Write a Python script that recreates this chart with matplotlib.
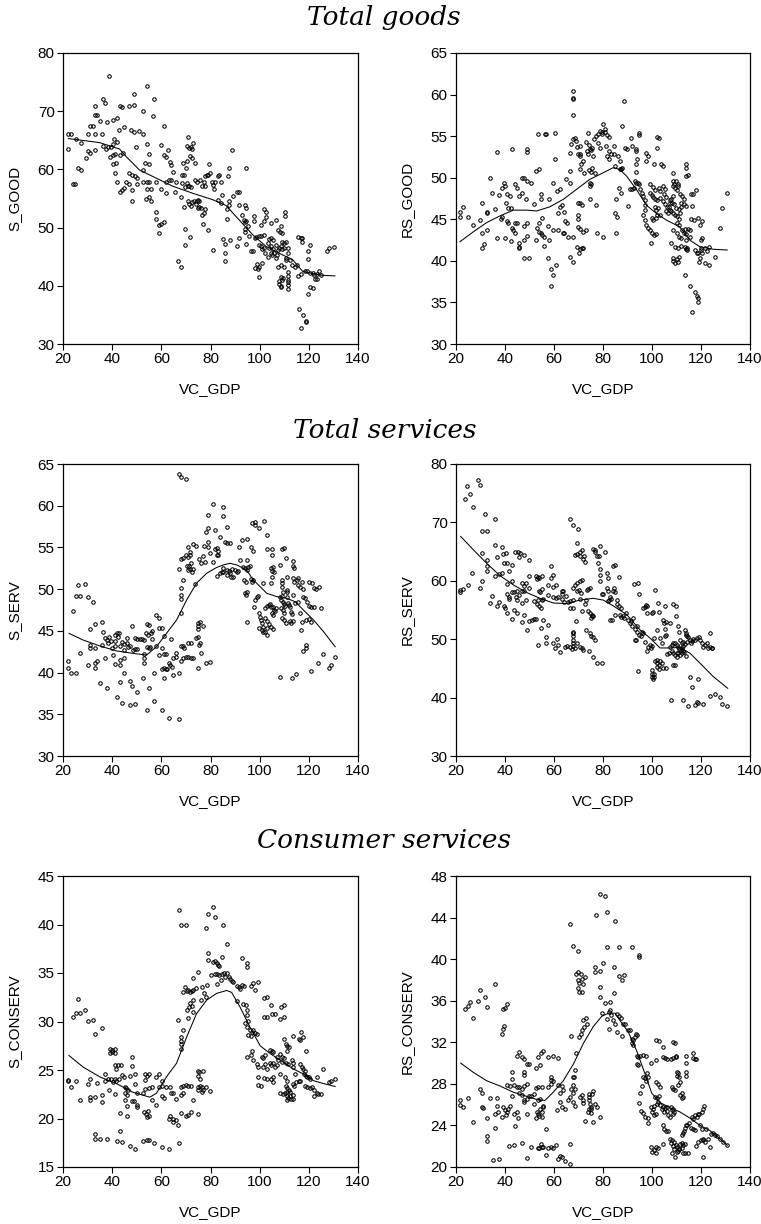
import numpy as np
import matplotlib
matplotlib.use("Agg")
import matplotlib.pyplot as plt

# ------------------------- data -------------------------

x_ticks = [20, 40, 60, 80, 100, 120, 140]
titles = ["Total goods", "Total services", "Consumer services"]

# panel 1: S_GOOD vs VC_GDP
s_good_pts = [
    (22.2,66.1),(23.1,66.1),(22.2,63.5),(25.3,65.2),(27.2,64.6),(24.1,57.5),(24.9,57.5),(26.0,60.2),(27.2,59.9),
    (29.2,62.0),(30.0,63.1),(31.1,62.9),(30.1,66.1),(31.1,67.4),(32.0,67.4),(33.1,69.4),(33.9,69.4),(33.0,70.9),
    (36.1,72.1),(37.0,71.4),(34.9,68.4),(33.1,66.1),(33.1,63.4),(36.0,66.1),(37.9,68.1),(40.2,68.5),(41.9,68.9),
    (38.9,76.0),(36.2,64.0),(37.3,63.5),(38.3,63.9),(39.4,63.9),(40.3,64.3),(40.2,62.4),(41.1,62.7),(39.0,62.2),
    (40.4,60.9),(41.4,61.1),(40.7,65.2),(41.9,64.7),(43.0,70.9),(43.9,70.7),(46.8,70.9),(48.8,72.9),(48.9,71.1),
    (42.9,66.8),(45.0,67.3),(47.7,66.8),(48.9,66.4),(50.9,66.6),(43.3,62.5),(44.4,62.8),(41.0,59.4),(41.9,57.9),
    (43.0,56.2),(44.1,56.5),(45.0,56.8),(45.8,57.9),(46.9,57.5),(46.8,59.4),(48.0,59.0),(49.1,58.8),(49.9,58.5),
    (48.0,56.4),(49.9,57.5),(48.0,54.6),(49.8,63.8),(52.7,66.0),(54.0,64.4),(54.9,62.6),(53.4,61.1),(54.9,60.9),
    (52.5,59.9),(52.7,57.9),(54.0,57.8),(54.8,57.8),(54.0,56.7),(55.7,56.7),(53.8,55.0),(55.0,55.2),(55.6,54.6),
    (54.0,74.3),(56.9,72.1),(56.8,69.2),(52.6,70.0),(57.9,52.7),(57.9,51.5),(59.0,50.4),(60.0,50.6),(60.9,50.9),
    (59.0,49.0),(57.9,57.9),(59.9,56.7),(59.9,64.2),(60.9,67.4),(60.9,62.5),(62.0,62.1),(62.9,63.3),(63.6,61.3),
    (64.0,60.7),(64.7,59.6),(62.0,57.8),(63.3,58.2),(64.1,58.1),(61.7,55.9),(65.5,56.2),(66.0,57.8),(66.7,44.2),
    (67.8,43.3),(70.6,64.0),(71.4,63.6),(72.1,63.8),(72.5,63.5),(70.7,65.6),(72.9,64.6),(68.4,59.0),(69.3,59.1),
    (71.7,62.3),(72.5,61.9),(69.0,61.1),(70.0,60.3),(70.5,61.4),(68.6,57.7),(69.5,56.9),(70.4,57.7),(70.9,57.2),
    (71.4,57.1),(72.0,56.9),(68.0,55.2),(69.4,53.6),(70.9,54.5),(71.2,54.0),(72.1,53.7),(72.6,54.4),(69.8,49.7),
    (71.8,48.4),(69.7,47.0),(73.7,58.1),(74.4,57.9),(73.7,61.1),(75.9,58.2),(76.4,57.1),(74.8,54.8),(75.2,53.6),
    (76.0,53.3),(76.7,52.2),(73.4,54.5),(73.9,54.1),(74.5,54.6),(75.0,53.3),(75.5,54.6),(77.4,57.9),(77.8,58.8),
    (78.5,59.1),(79.1,59.1),(79.9,59.4),(79.5,61.0),(77.9,57.2),(77.4,52.5),(77.9,53.2),(76.8,50.7),(78.9,49.6),
    (80.9,46.2),(80.5,57.9),(81.2,57.4),(82.0,57.9),(81.6,56.6),(82.9,58.8),(83.6,59.1),(84.3,57.9),(84.8,55.6),
    (84.2,54.2),(82.9,54.8),(85.1,48.0),(85.9,47.1),(85.8,45.6),(85.8,44.2),(86.8,53.2),(86.8,51.5),(87.7,54.5),
    (87.7,53.9),(87.8,47.9),(88.6,63.4),(89.0,55.5),(87.7,60.2),(87.0,58.8),(90.6,46.8),(91.4,48.2),(90.6,56.1),
    (91.7,56.1),(91.6,53.9),(92.7,52.2),(94.2,53.9),(94.6,53.4),(94.6,60.3),(93.5,51.3),(94.0,50.9),(94.4,51.1),
    (94.0,49.7),(94.2,49.3),(95.1,50.3),(94.6,47.2),(95.8,48.5),(96.5,45.9),(97.3,45.9),(97.8,52.0),(97.8,51.2),
    (98.0,48.2),(98.7,48.4),(99.6,48.5),(100.5,48.5),(99.7,47.0),(100.6,46.8),(101.0,46.3),(101.7,46.5),(99.4,42.9),
    (97.9,43.0),(99.0,43.7),(99.9,43.3),(100.8,43.9),(99.7,41.5),(101.6,53.2),(102.5,52.6),(101.6,51.2),(102.5,51.9),
    (100.7,50.5),(101.6,48.7),(103.6,48.1),(102.3,45.6),(103.2,45.0),(103.3,47.4),(103.8,46.5),(104.6,46.8),
    (105.4,46.3),(104.5,45.7),(105.2,45.3),(106.0,45.6),(106.5,44.7),(107.2,45.3),(107.3,46.1),(107.9,46.5),
    (108.7,46.8),(109.2,46.3),(104.6,50.8),(104.6,48.2),(105.5,47.8),(106.6,47.0),(106.8,51.3),(107.5,49.6),
    (108.2,49.2),(109.0,49.0),(108.8,50.3),(109.0,47.6),(110.1,47.3),(110.9,47.6),(110.1,46.5),(110.5,52.6),
    (110.5,52.0),(111.4,46.5),(111.4,45.6),(107.6,43.2),(108.5,43.6),(110.0,43.3),(110.9,44.5),(107.9,40.9),
    (107.9,40.3),(108.8,40.0),(108.8,41.5),(109.2,41.0),(109.5,41.3),(108.8,39.8),(111.4,42.4),(111.4,41.7),
    (111.4,41.0),(111.4,40.6),(111.4,40.2),(111.4,39.4),(110.7,44.8),(112.2,44.4),(113.0,43.6),(114.4,43.3),
    (115.1,43.6),(115.5,48.4),(116.8,48.2),(117.4,48.2),(117.4,47.5),(115.7,41.6),(116.8,42.1),(118.3,42.5),
    (119.2,42.5),(120.4,47.0),(119.7,45.9),(119.5,44.6),(120.4,42.2),(121.5,42.2),(122.2,41.9),(123.2,42.1),
    (124.2,42.5),(125.1,41.8),(122.4,41.1),(123.5,41.1),(120.4,39.8),(121.5,39.6),(119.6,38.6),(127.2,45.9),
    (128.3,46.5),(130.3,46.6),(115.8,36.0),(117.8,34.9),(118.8,34.0),(116.8,32.7),(118.9,33.8),
]
s_good_fit = [
    (22.2,65.3),(34.9,64.6),(43.0,63.5),(45.7,62.2),(51.1,59.9),(57.9,58.5),(64.7,57.1),(72.8,55.9),(80.9,54.8),
    (86.3,53.8),(91.7,51.3),(97.1,48.8),(102.5,46.8),(107.9,45.6),(113.4,44.5),(117.4,42.5),(121.5,42.1),
    (125.5,41.8),(130.6,41.7),
]

# panel 2: RS_GOOD vs VC_GDP
rs_good_pts = [
    (21.6,45.9),(21.6,45.3),(22.7,46.5),(24.8,45.3),(26.8,44.3),(29.6,44.9),(30.7,47.0),(30.7,43.3),(31.5,42.0),
    (30.7,41.5),(32.5,45.9),(32.8,45.7),(32.8,43.7),(33.7,50.0),(34.7,48.2),(35.9,46.2),(36.6,53.1),(36.8,42.7),
    (37.7,47.9),(38.2,45.0),(38.9,45.3),(38.9,48.8),(39.5,49.4),(40.2,49.0),(40.9,48.1),(42.0,47.8),(40.5,47.0),
    (41.2,46.4),(42.6,46.3),(40.7,44.8),(41.3,44.5),(42.7,43.9),(39.9,42.8),(42.7,53.4),(43.9,49.2),(44.7,48.8),
    (43.9,44.6),(44.7,44.5),(43.1,43.7),(44.0,43.3),(42.6,42.4),(45.8,42.1),(45.8,41.7),(45.8,41.5),(46.8,50.0),
    (47.8,50.0),(48.8,49.6),(46.8,48.2),(45.8,47.8),(48.4,47.4),(50.8,49.4),(51.7,46.8),(47.7,42.5),(48.8,43.0),
    (47.7,44.2),(48.8,44.6),(47.7,40.3),(49.6,40.3),(48.8,53.4),(48.8,53.1),(52.9,43.9),(53.7,44.6),(52.6,42.5),
    (53.9,43.5),(52.6,50.8),(53.7,51.0),(54.6,48.0),(54.6,47.5),(53.6,55.2),(56.3,55.2),(56.7,55.3),(54.9,45.1),
    (54.5,43.3),(55.2,43.1),(55.9,42.9),(57.8,42.5),(56.0,41.8),(57.6,40.3),(58.7,39.0),(59.5,38.3),(60.8,39.5),
    (58.6,37.0),(57.8,47.5),(59.7,49.4),(60.6,52.2),(60.6,55.4),(57.6,44.2),(59.4,43.7),(61.6,43.7),(61.7,45.7),
    (62.4,46.5),(63.1,46.7),(63.8,43.3),(64.0,43.3),(64.6,44.8),(65.5,44.6),(64.2,45.9),(61.4,48.4),(62.4,48.6),
    (64.7,49.8),(65.7,42.9),(66.7,49.4),(66.7,50.8),(66.7,53.0),(66.8,54.1),(67.8,54.6),(68.5,54.8),(68.8,54.4),
    (69.2,53.7),(67.6,42.9),(66.7,40.5),(67.6,39.9),(67.6,60.4),(67.6,59.6),(67.8,59.5),(67.6,57.5),(69.5,41.7),
    (70.5,41.4),(71.5,41.5),(70.2,41.0),(72.0,41.6),(69.6,44.1),(70.5,43.8),(71.9,43.5),(72.9,43.7),(69.9,45.5),
    (69.6,45.0),(69.9,46.9),(70.5,46.9),(71.5,46.7),(69.9,52.8),(70.6,52.8),(70.5,52.6),(70.5,53.8),(71.9,52.0),
    (71.2,51.6),(70.5,51.1),(72.3,50.6),(72.9,54.3),(73.7,55.4),(74.2,53.9),(74.6,53.4),(75.0,53.3),(73.3,53.2),
    (73.9,52.9),(74.6,49.4),(74.9,49.2),(74.6,49.0),(74.6,47.4),(74.2,50.9),(74.9,50.7),(75.6,51.2),(76.7,50.6),
    (75.7,53.6),(76.0,52.6),(76.5,54.6),(77.3,55.0),(78.0,55.2),(77.9,54.2),(78.7,53.6),(78.7,55.6),(79.4,55.2),
    (79.6,55.5),(80.1,56.5),(80.7,55.9),(81.0,55.5),(81.5,55.1),(82.5,54.9),(81.4,53.8),(82.5,53.2),(81.8,52.6),
    (82.5,52.2),(83.2,52.8),(84.5,53.8),(84.4,52.8),(84.7,51.4),(86.2,52.6),(86.8,52.0),(87.7,56.2),(88.6,59.2),
    (88.9,53.6),(89.8,53.4),(87.0,51.0),(87.4,51.1),(87.7,51.2),(86.6,48.8),(87.4,48.2),(85.5,47.5),(85.1,45.7),
    (85.8,45.3),(85.5,43.3),(77.0,46.7),(77.6,43.3),(80.0,42.9),(90.4,46.6),(91.2,48.6),(91.9,48.7),(92.6,48.8),
    (91.6,54.8),(92.0,53.8),(94.6,55.4),(94.7,55.1),(93.5,53.4),(93.6,53.2),(94.0,52.2),(93.4,51.6),(93.6,50.7),
    (93.0,49.6),(93.6,49.4),(94.3,49.4),(94.7,49.2),(95.3,48.6),(96.1,48.2),(96.4,47.8),(97.0,47.3),(97.0,46.7),
    (97.3,46.1),(96.4,45.5),(97.2,44.9),(97.7,44.3),(98.4,44.0),(99.1,43.7),(99.8,43.3),(100.7,43.1),(101.5,43.2),
    (99.5,42.2),(97.4,53.0),(98.5,52.6),(97.7,52.0),(100.8,51.6),(103.6,51.7),(104.5,51.4),(102.1,54.9),(102.9,54.8),
    (102.1,53.6),(99.3,49.2),(100.4,48.9),(101.1,48.5),(99.1,48.2),(99.8,47.9),(100.4,47.7),(101.2,47.5),(102.2,47.3),
    (103.2,47.6),(104.3,47.2),(105.2,46.8),(102.7,48.8),(103.4,48.4),(104.5,49.0),(105.2,48.6),(104.9,48.1),
    (105.6,47.7),(101.1,46.5),(101.8,46.1),(102.5,46.3),(99.8,45.1),(100.4,44.9),(101.5,45.1),(102.2,45.5),
    (103.2,45.5),(106.1,46.5),(107.0,46.5),(107.5,46.9),(105.9,46.0),(106.6,45.8),(107.2,46.1),(107.2,47.3),
    (107.9,47.5),(108.6,47.8),(108.6,49.6),(108.9,49.3),(108.6,49.0),(109.3,48.8),(110.0,48.5),(108.6,50.6),
    (109.7,49.6),(110.5,49.3),(110.8,49.0),(108.3,47.0),(109.1,46.8),(109.9,46.4),(111.0,46.2),(107.9,46.0),
    (108.6,45.8),(109.4,45.5),(110.4,45.4),(111.0,45.0),(111.3,45.8),(112.0,46.5),(110.4,44.5),(111.0,44.3),
    (111.6,48.0),(112.4,47.8),(112.9,47.4),(112.0,46.9),(113.1,46.8),(113.8,46.6),(108.6,43.7),(110.0,43.3),
    (111.0,42.9),(112.0,42.8),(112.9,43.3),(113.7,43.2),(107.9,42.1),(109.3,41.7),(110.6,41.5),(112.0,41.8),
    (113.3,41.7),(114.0,41.4),(108.6,40.3),(108.6,40.0),(109.3,39.8),(110.0,40.2),(110.6,39.9),(110.9,40.5),
    (112.4,43.7),(113.5,43.8),(114.7,43.8),(115.4,43.7),(115.4,42.9),(114.0,42.5),(114.3,41.5),(114.3,41.3),
    (114.0,51.6),(114.0,51.2),(114.0,50.2),(114.6,50.3),(116.1,48.1),(116.7,48.1),(117.8,48.5),(116.1,45.0),
    (117.0,44.9),(116.3,46.6),(113.3,38.3),(115.4,37.0),(117.4,36.2),(118.4,35.8),(118.8,35.5),(118.8,35.1),
    (116.3,33.8),(117.7,41.3),(118.4,40.9),(118.8,41.0),(119.9,41.3),(120.1,41.5),(119.5,40.3),(120.6,40.9),
    (121.5,41.5),(122.6,41.2),(123.4,41.7),(119.9,42.5),(120.6,42.7),(118.8,45.1),(120.6,44.8),(119.5,44.3),
    (119.2,39.9),(121.5,39.7),(123.3,39.5),(125.6,40.5),(127.6,43.9),(128.6,46.3),(130.7,48.2),
]
rs_good_fit = [
    (21.6,42.3),(27.1,43.5),(32.5,44.6),(37.9,45.4),(43.4,46.1),(48.8,46.1),(52.9,46.0),(58.3,46.5),(63.8,47.4),
    (69.2,48.6),(74.6,49.8),(80.1,50.6),(84.1,51.2),(86.8,51.0),(89.6,50.2),(93.6,48.6),(97.7,46.7),(101.8,45.7),
    (105.9,44.9),(111.3,44.1),(115.4,42.5),(119.5,41.7),(124.9,41.4),(130.7,41.3),
]

# panel 3: S_SERV vs VC_GDP
s_serv_pts = [
    (22.0,41.4),(22.0,40.5),(23.1,39.9),(25.2,40.0),(24.1,47.4),(25.2,49.2),(27.1,49.2),(26.1,50.5),(29.1,50.6),
    (30.2,49.1),(32.2,48.4),(27.1,42.3),(30.2,40.9),(31.1,45.2),(31.1,42.9),(31.1,43.3),(33.2,45.8),(33.2,42.9),
    (33.2,41.1),(33.2,40.6),(34.0,41.4),(34.9,38.8),(36.0,46.1),(36.3,44.9),(36.0,43.3),(37.1,44.2),(38.1,43.9),
    (38.8,44.3),(38.5,43.5),(39.5,43.8),(37.1,41.7),(38.1,38.2),(40.1,42.9),(40.4,42.1),(41.3,43.2),(41.3,44.5),
    (42.0,44.7),(42.4,44.3),(42.8,44.7),(41.1,43.8),(43.2,43.2),(41.0,41.0),(43.0,40.9),(42.0,37.1),(44.2,36.4),
    (43.0,38.9),(45.0,39.9),(43.3,41.5),(45.0,41.8),(44.2,43.7),(45.0,43.4),(46.1,43.6),(46.5,43.1),(47.2,43.2),
    (46.1,44.1),(45.0,42.7),(47.2,36.1),(49.2,36.2),(47.2,39.0),(48.1,38.4),(49.9,37.7),(48.1,45.6),(49.2,44.1),
    (50.0,44.0),(51.2,44.0),(52.1,44.0),(52.9,43.9),(48.3,42.7),(49.1,42.8),(49.9,42.8),(52.4,39.4),(52.9,41.8),
    (52.9,41.2),(52.9,42.2),(54.0,45.8),(55.1,45.7),(53.7,44.7),(54.6,44.5),(55.6,44.8),(56.4,45.0),(54.0,43.1),
    (55.0,42.9),(55.5,43.1),(54.0,35.5),(55.1,38.1),(56.0,44.0),(56.9,39.9),(56.9,36.6),(58.0,46.9),(58.9,46.5),
    (58.0,43.2),(59.1,45.3),(60.1,45.4),(58.9,42.1),(60.9,42.2),(61.8,42.2),(60.1,42.9),(60.1,40.4),(61.0,40.5),
    (60.1,35.5),(61.0,39.3),(61.0,44.4),(61.8,40.4),(62.5,40.4),(63.1,41.1),(63.7,40.9),(64.2,40.7),(63.1,34.5),
    (63.9,44.0),(64.8,41.7),(65.8,41.9),(64.8,39.7),(65.8,42.3),(67.0,39.9),(67.0,34.4),(67.2,52.4),(67.0,63.8),
    (68.1,63.4),(69.9,63.2),(68.0,49.3),(68.0,48.8),(68.0,50.1),(68.1,47.1),(68.9,51.1),(68.0,43.2),(68.9,43.2),
    (69.2,42.9),(68.1,41.4),(68.9,41.7),(69.9,41.9),(71.0,41.9),(71.9,41.8),(73.0,41.8),(71.0,43.5),(71.9,43.5),
    (69.9,54.1),(70.7,53.9),(71.6,54.1),(70.3,52.8),(71.1,52.8),(72.0,53.1),(70.7,52.3),(71.6,52.4),(72.4,52.1),
    (73.0,52.4),(71.0,55.1),(71.7,54.5),(68.2,53.6),(68.9,53.7),(72.7,55.4),(73.9,55.2),(73.8,50.6),(74.1,44.2),
    (75.0,44.3),(75.0,46.0),(75.0,45.6),(75.7,46.1),(75.0,45.2),(75.4,43.3),(75.7,43.6),(74.9,40.5),(76.1,42.3),
    (77.1,45.6),(78.0,41.1),(79.8,41.3),(75.2,53.6),(76.1,53.1),(76.8,54.0),(77.6,53.3),(77.3,55.2),(78.0,56.8),
    (79.1,57.3),(79.1,55.6),(79.1,55.0),(79.1,58.9),(81.0,60.2),(81.8,57.1),(81.8,54.8),(82.5,54.9),(83.2,54.6),
    (82.5,54.1),(83.2,54.1),(80.9,53.2),(79.8,54.3),(82.8,51.6),(83.7,51.9),(84.5,52.0),(85.2,52.1),(85.2,52.5),
    (83.9,56.2),(84.9,59.9),(84.9,58.8),(86.8,57.4),(85.9,55.7),(86.8,55.5),(87.9,55.5),(86.6,52.3),(87.5,52.2),
    (87.9,51.9),(86.9,51.7),(88.2,51.5),(89.0,51.4),(88.9,52.4),(90.0,52.3),(90.7,52.1),(91.2,52.2),(91.7,55.0),
    (92.0,53.5),(92.7,55.9),(94.7,56.0),(93.4,52.7),(94.1,52.5),(94.7,52.3),(95.4,52.7),(96.1,52.8),(93.8,51.1),
    (94.5,50.9),(94.1,49.5),(94.5,49.3),(95.0,49.7),(94.7,53.5),(95.0,46.1),(96.4,51.2),(96.9,50.9),(97.4,51.1),
    (96.5,55.0),(97.4,54.6),(97.0,57.9),(98.0,58.0),(98.3,57.7),(99.9,57.3),(101.9,58.2),(102.9,56.5),(97.7,47.9),
    (98.1,48.7),(98.8,49.1),(99.5,49.2),(99.9,47.2),(100.2,46.7),(100.4,46.3),(100.8,45.9),(101.2,45.5),(102.2,47.7),
    (102.9,48.0),(103.6,48.1),(104.3,48.2),(104.7,47.9),(102.2,46.5),(102.9,46.2),(103.7,45.8),(102.9,45.3),
    (102.2,44.9),(102.9,44.5),(101.5,50.7),(99.9,45.3),(100.8,45.1),(101.5,44.9),(102.9,54.8),(104.9,54.8),
    (104.9,54.1),(104.5,52.5),(104.9,52.2),(104.9,51.5),(105.6,52.7),(105.9,52.0),(104.5,50.7),(105.6,47.9),
    (106.0,47.5),(106.7,47.7),(104.9,47.1),(105.6,46.9),(106.3,47.4),(104.7,45.5),(105.3,45.2),(108.3,52.9),
    (108.3,49.1),(109.2,49.2),(109.0,51.1),(109.0,50.7),(109.2,50.3),(109.3,49.7),(108.3,39.5),(109.2,54.8),
    (110.1,54.9),(110.6,53.7),(108.6,48.7),(109.4,48.5),(109.7,48.2),(110.3,48.0),(108.6,47.7),(109.4,47.5),
    (110.0,47.2),(109.2,46.5),(110.1,46.3),(110.9,45.9),(111.0,51.5),(111.0,49.9),(111.3,49.6),(111.0,49.1),
    (111.7,48.3),(112.1,48.1),(112.4,47.9),(112.6,47.3),(113.0,47.0),(113.4,46.2),(112.9,46.0),(112.2,46.2),
    (113.7,53.4),(114.0,52.5),(113.7,52.8),(113.7,51.3),(114.1,50.8),(115.0,51.1),(115.7,51.3),(115.7,50.5),
    (116.4,50.3),(113.7,49.3),(114.4,48.3),(115.4,48.5),(113.2,39.3),(114.8,39.8),(116.5,47.1),(116.8,45.1),
    (117.1,46.1),(117.1,50.8),(117.8,50.0),(117.8,49.1),(118.5,48.9),(119.2,48.5),(119.9,48.0),(120.8,47.9),
    (117.8,42.6),(118.9,43.3),(118.9,43.0),(118.9,46.3),(119.9,46.4),(120.8,46.1),(119.9,50.9),(121.2,50.7),
    (122.0,50.1),(123.1,50.0),(124.0,50.3),(121.9,47.8),(120.8,40.2),(123.9,41.1),(124.9,47.7),(125.7,42.2),
    (128.0,40.6),(128.9,40.9),(130.7,41.9),
]
s_serv_fit = [
    (22.4,44.7),(28.2,43.9),(34.9,43.2),(41.7,42.6),(48.5,42.3),(54.0,42.1),(58.0,43.1),(62.1,44.7),(66.2,46.3),
    (70.3,48.7),(74.3,50.7),(78.4,51.9),(82.5,52.6),(85.2,52.9),(87.9,53.1),(90.7,52.9),(94.7,52.3),(97.4,51.1),
    (100.2,50.3),(102.9,49.5),(107.0,49.1),(111.0,48.9),(114.4,48.5),(117.8,47.5),(121.9,46.3),(126.0,44.9),
    (130.7,43.1),
]

# panel 4: RS_SERV vs VC_GDP
rs_serv_pts = [
    (21.6,58.0),(21.6,58.5),(22.7,58.6),(23.8,74.0),(24.6,76.2),(25.7,74.9),(26.8,72.7),(24.8,59.3),(26.7,61.3),
    (28.8,77.2),(29.8,76.4),(29.8,58.7),(30.7,59.9),(30.7,64.7),(30.7,68.5),(32.8,68.6),(31.8,71.5),(32.8,63.5),
    (32.8,62.5),(32.8,61.6),(33.9,56.2),(34.8,57.4),(35.9,66.2),(35.9,70.6),(35.9,60.9),(36.6,55.7),(37.7,56.3),
    (36.6,64.1),(37.7,61.1),(38.6,61.3),(38.6,65.8),(39.3,64.6),(40.4,64.7),(39.7,63.1),(40.7,63.0),(39.7,55.6),
    (40.0,55.3),(40.7,59.5),(40.7,57.8),(41.8,57.3),(42.7,58.0),(41.8,61.6),(40.7,54.5),(41.8,56.9),(42.7,53.4),
    (42.7,62.7),(43.0,59.9),(43.7,58.0),(44.8,58.2),(44.5,57.3),(45.0,56.7),(43.7,55.0),(44.8,54.5),(44.1,64.9),
    (45.5,65.0),(46.1,64.8),(45.8,64.0),(47.8,64.5),(45.8,57.6),(46.8,58.2),(46.8,56.2),(46.8,59.7),(47.8,59.1),
    (48.6,59.7),(47.8,58.2),(46.8,53.0),(47.8,54.2),(48.6,56.7),(48.8,51.5),(49.8,63.5),(49.8,60.9),(49.8,58.7),
    (49.9,53.2),(50.9,53.3),(52.0,53.4),(52.7,53.4),(52.7,60.9),(53.6,60.6),(53.9,60.5),(52.9,60.3),(51.8,56.5),
    (52.9,56.1),(53.6,56.7),(54.0,55.6),(53.6,49.0),(54.0,58.2),(54.3,58.0),(55.0,58.6),(54.7,55.3),(55.0,56.7),
    (55.7,56.9),(55.0,60.9),(54.7,51.9),(55.7,53.3),(56.6,50.3),(56.6,49.4),(57.7,52.5),(57.7,57.6),(57.7,59.3),
    (58.6,62.5),(58.6,60.5),(59.5,49.4),(60.5,48.5),(61.2,50.0),(61.8,49.0),(59.7,59.0),(59.7,57.3),(60.8,57.0),
    (59.7,61.0),(60.8,59.3),(61.8,57.3),(63.1,57.8),(63.1,58.2),(63.8,58.3),(62.4,47.8),(63.1,56.9),(64.1,56.3),
    (64.5,48.7),(65.2,48.9),(64.8,57.4),(65.8,56.3),(66.5,56.5),(66.5,70.6),(67.9,69.6),(69.7,68.9),(69.5,66.5),
    (68.6,64.5),(69.5,64.6),(70.6,64.3),(71.3,65.3),(70.6,65.0),(68.6,59.3),(69.5,59.6),(70.6,59.9),(71.3,60.2),
    (69.5,58.2),(70.3,58.5),(71.0,57.9),(70.6,56.9),(67.9,58.7),(67.6,56.7),(66.5,55.3),(67.6,55.3),(68.8,53.2),
    (67.6,51.3),(67.6,51.0),(67.6,50.5),(67.6,49.9),(67.6,49.3),(67.9,48.9),(68.6,48.5),(66.5,48.7),(67.2,48.3),
    (70.8,48.7),(71.4,48.5),(72.0,48.2),(69.3,49.4),(71.6,54.9),(72.6,56.1),(72.9,56.7),(72.0,63.7),(72.6,63.3),
    (72.3,64.2),(73.3,58.5),(74.0,58.6),(74.7,58.7),(72.9,51.6),(73.9,54.9),(74.7,54.5),(75.4,54.2),(75.6,53.9),
    (76.0,54.0),(75.0,53.7),(74.7,51.0),(75.0,50.6),(75.9,50.3),(74.4,47.9),(75.8,46.9),(76.7,49.9),(76.0,65.4),
    (76.7,65.3),(76.7,65.0),(77.4,64.3),(78.4,64.2),(78.8,65.9),(78.1,63.0),(78.8,62.0),(78.8,61.0),(78.8,59.9),
    (79.5,57.8),(79.9,57.7),(77.4,46.0),(79.7,46.0),(80.8,64.9),(81.5,61.4),(81.9,60.5),(81.5,58.7),(82.2,58.2),
    (82.9,57.3),(82.6,56.7),(82.2,56.5),(83.1,56.9),(82.9,53.3),(83.8,53.3),(84.6,58.7),(84.2,58.3),(84.9,58.0),
    (84.2,62.5),(84.9,62.7),(84.9,54.2),(85.6,56.7),(85.9,56.1),(86.6,55.7),(87.2,55.3),(86.6,60.6),(86.9,54.2),
    (87.2,53.8),(88.0,54.0),(88.7,53.6),(89.2,54.5),(90.3,53.3),(91.0,52.7),(91.6,53.2),(92.4,53.6),(92.0,52.3),
    (92.7,59.5),(94.4,59.7),(94.7,57.8),(93.0,51.7),(93.7,52.2),(94.0,51.3),(93.4,49.9),(93.0,49.8),(94.8,50.7),
    (95.4,50.5),(95.9,51.3),(96.5,51.0),(94.4,44.5),(96.5,55.3),(97.2,55.5),(97.8,54.5),(97.6,55.9),(97.8,55.6),
    (97.1,49.6),(97.8,47.9),(98.5,48.6),(99.2,49.0),(99.8,54.5),(100.3,54.7),(99.8,48.9),(99.4,48.5),(99.8,44.7),
    (99.8,44.1),(99.8,43.5),(100.3,43.2),(100.8,44.1),(100.8,43.6),(100.9,50.2),(101.2,46.2),(101.9,46.5),
    (102.2,45.9),(102.9,45.6),(103.2,46.3),(103.9,46.0),(102.2,45.2),(103.0,44.9),(101.4,58.5),(101.9,51.6),
    (102.6,56.2),(103.0,54.6),(103.3,50.2),(103.9,49.4),(104.6,45.0),(104.6,53.3),(105.0,52.7),(105.5,51.7),
    (105.7,53.0),(105.3,55.6),(105.3,50.5),(105.7,50.7),(105.7,45.0),(106.3,47.5),(107.1,47.6),(108.0,47.9),
    (108.7,47.7),(109.4,47.3),(110.0,47.6),(107.3,52.7),(107.3,48.7),(108.0,49.0),(108.7,49.3),(109.4,49.4),
    (107.7,39.6),(108.7,56.1),(109.7,55.7),(109.7,54.0),(108.7,45.6),(109.4,45.6),(110.0,49.0),(110.7,48.7),
    (111.1,48.3),(111.8,48.1),(112.1,48.5),(112.5,48.9),(112.8,47.9),(110.0,47.0),(110.7,47.6),(111.4,47.3),
    (112.1,47.6),(110.7,52.2),(111.2,51.3),(111.4,49.8),(112.1,49.4),(112.8,49.5),(113.5,49.1),(114.2,49.5),
    (112.9,47.8),(113.7,47.1),(112.5,39.6),(114.8,38.6),(113.5,51.6),(113.9,51.0),(113.9,50.7),(114.2,50.5),
    (114.8,50.3),(115.5,49.9),(115.8,49.4),(116.2,49.7),(116.9,50.0),(117.6,49.8),(118.3,50.2),(119.0,50.3),
    (119.7,49.9),(120.3,49.4),(121.0,48.7),(121.7,49.0),(122.4,49.3),(123.0,48.5),(123.7,48.6),(124.4,48.5),
    (115.5,43.5),(116.2,41.8),(118.9,43.1),(117.6,38.7),(118.5,39.3),(118.9,39.0),(120.7,38.9),(123.7,40.2),
    (123.7,51.1),(125.7,40.7),(127.8,40.1),(128.7,38.9),(130.7,38.5),(124.6,48.5),
]
rs_serv_fit = [
    (21.9,67.6),(27.1,65.3),(32.5,63.0),(37.9,60.9),(43.4,59.3),(48.8,58.0),(54.3,57.0),(59.7,56.2),(65.2,56.1),
    (70.6,56.7),(76.0,57.0),(80.1,56.7),(84.2,55.7),(89.7,54.2),(95.1,51.6),(99.2,50.2),(103.3,48.5),(107.3,48.5),
    (111.4,48.6),(115.5,47.6),(119.6,45.9),(125.0,43.6),(130.9,41.6),
]

# panel 5: S_CONSERV vs VC_GDP
s_conserv_pts = [
    (22.0,24.0),(22.0,23.9),(23.1,23.2),(25.2,23.9),(24.1,30.5),(25.2,30.9),(27.1,30.9),(26.1,32.3),(29.1,31.2),
    (30.2,30.1),(32.2,30.2),(33.2,28.7),(36.0,29.3),(27.1,21.9),(30.2,23.6),(31.1,24.1),(31.1,22.2),(31.1,21.9),
    (33.2,22.2),(34.0,23.7),(33.2,18.4),(33.2,17.9),(34.9,17.9),(38.1,17.9),(36.0,22.4),(36.0,21.7),(37.1,24.6),
    (37.1,23.9),(38.3,24.1),(38.9,22.9),(39.0,27.2),(40.1,27.1),(41.1,27.2),(39.0,26.8),(40.1,26.9),(41.1,26.8),
    (39.7,24.1),(40.4,23.8),(41.1,24.1),(41.7,23.9),(42.7,24.1),(41.1,22.5),(41.1,25.5),(42.4,25.5),(43.4,25.5),
    (41.7,25.1),(43.1,20.6),(43.1,18.7),(42.0,17.7),(44.2,17.6),(43.8,24.5),(44.7,24.3),(45.1,23.2),(45.8,23.1),
    (46.4,22.9),(45.1,22.6),(46.1,22.4),(45.1,21.9),(46.1,21.3),(46.1,20.3),(47.2,24.4),(48.1,26.3),(48.1,25.4),
    (48.1,21.8),(48.9,21.8),(49.2,24.6),(49.2,23.6),(49.9,21.4),(50.2,21.2),(47.2,17.2),(49.2,16.9),(49.9,22.6),
    (52.4,17.7),(53.2,24.6),(53.2,24.0),(53.2,23.0),(52.6,22.6),(54.0,24.4),(54.9,24.6),(52.9,20.7),(53.9,20.5),
    (54.6,20.8),(54.9,20.3),(54.0,20.2),(54.0,17.8),(55.1,17.8),(55.1,23.1),(56.0,23.2),(56.0,21.9),(57.1,17.5),
    (58.0,21.4),(58.0,24.3),(59.1,24.6),(59.1,23.2),(60.1,23.4),(60.1,23.9),(60.1,22.3),(61.0,22.1),(60.1,17.1),
    (63.1,19.9),(63.7,20.3),(64.8,20.0),(65.8,19.8),(64.8,19.6),(63.1,16.9),(62.1,23.2),(63.7,23.2),(63.9,22.6),
    (64.8,22.6),(65.9,22.0),(66.9,19.3),(67.1,17.5),(67.0,41.5),(68.0,39.9),(69.9,40.0),(66.9,30.2),(68.0,28.4),
    (68.0,28.0),(68.0,27.7),(68.0,27.2),(68.9,29.1),(68.0,23.2),(68.9,23.4),(69.9,23.5),(68.9,22.6),(68.2,22.4),
    (71.0,23.3),(71.9,23.3),(68.0,20.6),(69.9,20.3),(71.0,20.4),(71.9,20.7),(73.0,21.9),(68.9,33.0),(69.6,33.6),
    (70.3,33.1),(71.0,33.2),(71.6,33.0),(72.3,33.1),(73.0,33.2),(70.3,31.2),(71.3,31.5),(71.6,31.9),(72.3,31.6),
    (73.0,31.0),(71.0,30.4),(73.0,32.2),(74.1,33.5),(73.0,34.5),(75.0,35.1),(76.1,32.2),(76.7,33.6),(77.3,32.9),
    (78.2,32.5),(75.0,24.9),(75.4,24.8),(75.0,24.4),(75.7,24.1),(75.0,23.2),(75.7,23.3),(76.4,23.2),(75.0,22.9),
    (77.1,24.9),(76.4,22.7),(77.1,22.9),(75.0,20.5),(78.0,23.2),(79.8,22.8),(78.0,39.6),(79.1,41.1),(79.1,37.1),
    (79.1,36.3),(78.7,33.8),(80.0,34.8),(81.0,41.8),(81.8,40.8),(81.1,36.1),(81.8,36.2),(82.5,36.0),(83.2,35.8),
    (83.6,35.7),(81.8,34.9),(82.8,34.9),(83.6,34.8),(82.8,33.9),(84.9,39.9),(86.8,38.0),(84.8,36.6),(84.5,34.9),
    (85.5,35.0),(85.9,34.6),(86.6,35.0),(87.4,34.6),(87.9,34.4),(88.6,34.2),(89.0,34.1),(84.3,34.3),(90.7,33.7),
    (91.5,33.6),(92.1,33.4),(90.9,32.1),(93.0,36.5),(94.7,36.0),(95.0,35.6),(93.0,33.8),(93.6,33.7),(93.4,31.8),
    (94.3,31.7),(94.7,31.2),(95.0,30.7),(94.0,29.8),(94.7,29.4),(95.4,30.1),(96.4,33.7),(97.1,34.0),(97.9,33.2),
    (99.5,34.1),(96.1,29.1),(96.8,28.9),(97.4,29.1),(98.1,28.8),(98.8,28.7),(95.4,28.6),(96.4,28.5),(95.0,26.3),
    (96.4,26.5),(96.8,27.0),(97.2,26.0),(98.8,25.6),(99.5,25.3),(99.5,24.3),(99.5,23.5),(100.4,23.4),(100.8,26.3),
    (101.5,26.2),(102.2,26.5),(101.5,25.3),(102.2,25.6),(102.9,25.1),(101.9,24.2),(102.9,24.1),(101.9,30.5),
    (102.9,30.5),(101.9,32.4),(102.9,32.5),(104.0,27.1),(104.9,27.0),(105.6,26.9),(104.0,25.7),(104.5,25.5),
    (105.6,25.7),(106.3,25.3),(107.0,25.5),(104.5,24.1),(105.6,24.3),(105.3,23.8),(104.7,31.7),(104.9,30.8),
    (106.3,30.8),(107.0,26.3),(107.6,26.0),(108.3,30.3),(108.3,26.7),(109.2,26.3),(109.9,26.2),(109.2,25.8),
    (110.6,25.7),(111.5,25.6),(108.3,24.6),(108.3,22.6),(109.4,22.5),(110.3,22.6),(111.0,22.7),(111.3,22.3),
    (112.4,22.3),(111.7,22.1),(112.7,22.0),(111.0,21.9),(108.7,31.5),(109.7,31.7),(109.9,30.5),(109.7,28.2),
    (110.8,27.7),(111.3,27.5),(111.8,27.4),(111.3,27.0),(110.3,24.3),(111.0,23.9),(110.8,23.4),(111.3,23.1),
    (111.8,22.9),(112.4,22.7),(113.0,26.0),(113.7,25.7),(113.4,25.3),(114.4,24.6),(113.7,23.6),(114.8,23.8),
    (114.0,23.3),(113.7,28.5),(115.8,28.2),(113.7,22.4),(113.7,22.0),(115.8,23.9),(116.5,23.9),(116.5,25.6),
    (117.1,25.3),(117.8,25.1),(118.5,24.9),(118.1,24.6),(118.9,24.4),(119.2,24.3),(119.9,24.3),(120.5,24.1),
    (116.9,28.9),(117.8,28.4),(116.5,28.1),(118.9,27.0),(118.5,23.4),(119.2,23.2),(120.3,23.1),(121.2,23.2),
    (121.9,22.9),(121.9,22.3),(123.3,22.6),(123.9,22.5),(123.3,24.3),(124.9,22.5),(125.7,25.1),(128.0,23.8),
    (128.9,23.9),(130.7,24.1),
]
s_conserv_fit = [
    (22.4,26.5),(28.2,25.3),(34.9,24.3),(41.7,23.6),(48.5,22.7),(55.3,22.2),(58.0,22.6),(62.1,24.3),(66.2,25.7),
    (70.3,28.4),(74.3,30.8),(78.4,32.2),(82.5,32.9),(86.6,33.2),(88.6,33.0),(92.0,31.5),(96.1,29.4),(100.2,27.5),
    (104.2,26.7),(109.7,25.8),(113.7,25.1),(117.8,24.6),(121.9,23.9),(126.0,23.6),(130.7,23.3),
]

# panel 6: RS_CONSERV vs VC_GDP
rs_conserv_pts = [
    (21.6,26.4),(21.6,26.0),(22.7,25.8),(24.8,26.6),(26.8,24.3),(23.8,35.2),(24.8,35.5),(25.7,35.9),(26.8,34.3),
    (28.8,36.0),(29.8,37.0),(31.8,36.4),(32.8,35.4),(35.9,37.6),(29.8,27.5),(30.7,27.1),(30.7,25.8),(31.2,25.7),
    (32.8,24.7),(32.8,23.0),(32.8,22.5),(33.9,26.6),(35.0,20.7),(37.7,20.8),(35.9,23.8),(36.6,26.6),(36.6,25.9),
    (35.9,25.1),(37.3,25.3),(38.6,32.8),(39.3,33.3),(39.6,33.6),(39.3,35.2),(40.0,35.3),(40.7,35.7),(38.6,24.8),
    (39.3,25.8),(40.0,25.5),(40.7,25.3),(40.4,25.0),(41.4,25.6),(42.0,25.9),(41.0,27.9),(42.0,27.8),(42.7,29.1),
    (42.7,28.5),(42.7,26.8),(41.8,22.0),(43.7,22.1),(43.7,27.9),(44.8,27.7),(44.8,25.3),(43.7,25.1),(44.1,23.9),
    (45.4,24.7),(44.8,30.7),(45.8,31.1),(46.8,30.6),(47.8,30.4),(48.8,29.9),(45.8,27.7),(46.8,27.5),(47.8,27.8),
    (45.8,27.1),(46.8,26.9),(46.8,22.3),(47.8,29.1),(47.8,28.9),(47.8,26.4),(47.8,26.3),(48.8,26.5),(48.8,28.0),
    (48.8,25.1),(48.8,20.9),(49.8,29.9),(49.8,26.8),(50.8,26.8),(51.8,27.0),(50.6,21.9),(51.8,26.1),(52.7,29.5),
    (53.6,30.6),(54.5,31.0),(55.6,31.2),(54.3,29.8),(52.7,27.6),(53.6,27.7),(55.0,27.7),(52.9,25.3),(53.6,25.1),
    (52.7,24.7),(54.0,24.9),(55.0,25.3),(54.3,25.6),(55.6,25.9),(55.4,25.8),(55.0,24.8),(53.6,26.4),(54.3,26.5),
    (54.6,22.2),(55.6,21.9),(55.0,21.9),(53.6,21.8),(54.0,21.8),(56.7,21.2),(57.7,21.8),(58.6,21.9),(59.5,21.8),
    (60.7,22.1),(56.6,23.7),(57.7,27.7),(58.6,28.0),(58.6,28.4),(59.5,28.3),(58.6,28.7),(57.7,30.6),(59.7,30.7),
    (61.8,30.5),(61.8,27.9),(63.1,27.8),(63.5,27.4),(62.4,27.1),(61.1,25.5),(62.4,26.3),(63.1,25.8),(64.5,25.6),
    (61.8,20.8),(63.1,21.0),(64.5,20.6),(66.5,20.3),(62.4,21.1),(65.8,26.4),(66.5,26.7),(66.8,27.5),(66.5,22.2),
    (66.8,32.6),(66.5,43.4),(67.6,41.3),(69.7,40.8),(67.6,28.7),(68.1,28.7),(68.6,29.3),(67.6,27.9),(68.6,27.5),
    (67.9,27.1),(67.9,26.3),(68.6,25.9),(69.0,31.0),(68.8,38.6),(69.7,38.8),(70.9,38.6),(69.7,38.0),(70.4,37.7),
    (71.3,38.1),(69.7,37.2),(70.3,36.8),(71.3,36.8),(71.7,37.6),(72.7,38.3),(70.3,32.5),(70.9,32.8),(71.3,33.2),
    (72.2,33.5),(72.0,34.1),(73.0,34.3),(73.3,33.8),(70.6,26.7),(71.3,26.9),(72.0,26.4),(71.7,26.2),(72.7,24.4),
    (74.0,25.3),(74.4,27.0),(74.4,26.7),(74.4,26.4),(74.7,26.1),(74.9,25.6),(74.4,25.6),(75.3,25.2),(74.9,25.8),
    (75.6,27.0),(75.8,27.3),(76.0,24.3),(76.7,26.1),(77.6,25.8),(78.8,24.8),(78.8,36.4),(76.7,39.2),(78.8,38.9),
    (76.7,38.8),(78.8,37.3),(77.1,44.2),(78.8,46.3),(80.8,46.1),(81.5,44.5),(80.1,39.6),(79.5,34.8),(81.0,35.8),
    (82.9,35.9),(81.5,34.2),(82.5,34.9),(82.9,35.1),(83.1,34.6),(82.6,33.3),(84.2,34.1),(84.9,33.8),(81.8,41.2),
    (86.7,41.2),(84.6,36.7),(84.6,39.2),(84.9,43.7),(86.7,38.4),(87.6,38.0),(88.7,38.5),(85.8,34.7),(86.6,34.5),
    (87.2,34.3),(85.8,33.0),(87.6,32.6),(88.3,33.8),(89.0,33.8),(92.0,41.2),(94.7,40.4),(94.7,40.2),(90.3,33.2),
    (91.0,33.2),(91.7,32.3),(92.4,32.2),(93.1,32.5),(93.5,32.8),(93.7,32.7),(91.7,31.9),(92.4,31.7),(93.7,30.7),
    (94.4,30.6),(95.1,30.7),(96.5,30.8),(97.4,30.7),(93.7,29.9),(94.4,29.8),(94.8,26.2),(95.1,27.1),(95.8,27.8),
    (96.5,28.7),(97.2,28.6),(97.8,29.0),(98.5,28.7),(97.4,28.3),(95.6,25.4),(96.5,25.2),(97.1,24.8),(98.5,24.7),
    (98.5,24.2),(99.5,30.0),(101.5,30.3),(99.5,25.8),(100.3,25.6),(100.8,25.9),(99.9,25.3),(100.8,25.0),(101.6,25.1),
    (99.5,21.9),(99.9,21.4),(100.8,21.6),(101.6,21.9),(102.6,21.8),(101.6,21.3),(101.6,32.2),(103.0,32.1),
    (101.6,28.2),(102.6,28.0),(103.3,27.7),(101.2,26.7),(102.2,26.6),(103.0,26.8),(102.6,26.3),(101.9,26.1),
    (103.3,26.0),(103.9,25.6),(104.6,25.8),(105.3,25.7),(106.0,25.8),(104.9,25.3),(104.4,22.2),(104.6,31.5),
    (104.6,30.6),(105.3,30.5),(106.0,30.4),(104.4,24.0),(104.9,23.7),(105.7,23.5),(106.7,23.5),(106.0,25.4),
    (106.7,25.0),(107.3,24.8),(107.8,30.4),(108.7,30.5),(109.7,30.6),(108.0,27.7),(108.7,27.5),(109.4,27.4),
    (107.6,25.8),(108.3,25.5),(108.7,25.6),(109.0,25.3),(108.7,25.1),(108.7,32.0),(109.4,31.9),(109.8,30.7),
    (110.0,29.1),(110.4,28.8),(110.7,29.0),(111.2,28.7),(111.4,28.2),(110.7,27.9),(111.4,26.9),(112.1,27.1),
    (112.8,26.7),(112.1,26.6),(107.5,22.7),(108.3,22.6),(108.9,22.4),(107.8,22.3),(108.7,22.0),(109.7,22.1),
    (110.3,21.9),(111.0,21.7),(109.0,21.7),(110.0,21.4),(110.5,21.5),(111.2,21.7),(108.3,21.3),(109.4,21.0),
    (111.4,22.2),(112.1,22.3),(112.8,22.1),(113.5,22.2),(112.1,21.8),(112.1,23.1),(112.8,23.3),(113.0,23.5),
    (113.5,23.8),(113.9,24.0),(112.8,21.3),(113.5,21.3),(113.9,30.7),(113.9,30.0),(113.9,29.1),(113.9,28.8),
    (114.4,24.0),(115.2,24.2),(115.8,23.8),(116.6,23.7),(114.8,21.3),(116.6,31.0),(117.6,30.4),(116.6,30.5),
    (118.0,30.4),(116.2,24.8),(116.9,24.6),(117.6,25.0),(118.3,24.8),(118.9,25.1),(119.3,25.1),(118.0,22.0),
    (118.9,22.4),(119.9,22.6),(120.7,22.6),(121.0,22.7),(117.6,23.6),(119.6,24.0),(120.3,23.7),(120.3,25.3),
    (121.0,25.6),(121.2,25.9),(120.7,21.0),(121.6,22.4),(122.0,23.7),(123.0,22.7),(123.7,21.9),(123.9,23.2),
    (124.9,23.3),(125.8,23.1),(126.7,23.0),(127.8,22.7),(128.8,22.4),(130.7,22.1),
]
rs_conserv_fit = [
    (21.9,30.0),(27.1,29.1),(32.5,28.3),(37.9,27.8),(43.4,27.2),(48.8,26.8),(52.9,26.5),(56.3,26.4),(59.7,27.2),
    (63.8,28.3),(67.9,29.9),(72.0,31.9),(76.0,33.5),(79.5,34.5),(82.2,34.8),(84.9,34.8),(86.9,34.1),(90.3,33.0),
    (93.7,31.2),(97.1,29.0),(99.9,27.1),(103.3,26.2),(107.4,25.7),(111.4,25.3),(115.5,24.7),(119.6,24.0),
    (123.7,23.5),(127.8,22.7),(130.7,22.1),
]

# ------------------------- drawing -------------------------

plt.rcParams['font.family'] = ['Liberation Sans', 'DejaVu Sans']

W, H = 761, 1224
fig = plt.figure(figsize=(W / 100, H / 100), dpi=100)

col_px = [(63, 358), (456, 750)]
row_px = [(53, 344), (464, 756), (876, 1167)]
title_y = [18, 430, 840]

panels = [
    (0, 0, s_good_pts, s_good_fit, "S_GOOD", (30, 80), np.arange(30, 81, 10)),
    (0, 1, rs_good_pts, rs_good_fit, "RS_GOOD", (30, 65), np.arange(30, 66, 5)),
    (1, 0, s_serv_pts, s_serv_fit, "S_SERV", (30, 65), np.arange(30, 66, 5)),
    (1, 1, rs_serv_pts, rs_serv_fit, "RS_SERV", (30, 80), np.arange(30, 81, 10)),
    (2, 0, s_conserv_pts, s_conserv_fit, "S_CONSERV", (15, 45), np.arange(15, 46, 5)),
    (2, 1, rs_conserv_pts, rs_conserv_fit, "RS_CONSERV", (20, 48), np.arange(20, 49, 4)),
]

for r, c, pts, fit, ylab, ylim, yticks in panels:
    x0, x1 = col_px[c]
    y0, y1 = row_px[r]
    ax = fig.add_axes([x0 / W, 1 - y1 / H, (x1 - x0) / W, (y1 - y0) / H])
    p = np.array(pts)
    f = np.array(fit)
    ax.plot(p[:, 0], p[:, 1], linestyle='none', marker='o', ms=2.5, mfc='none',
            mec='black', mew=0.75, clip_on=False)
    ax.plot(f[:, 0], f[:, 1], color='black', lw=0.75)
    ax.set_xlim(20, 140)
    ax.set_ylim(*ylim)
    ax.set_xticks(x_ticks)
    ax.set_yticks(yticks)
    ax.tick_params(direction='out', length=4, width=0.8, labelsize=11, pad=2,
                   top=False, right=False)
    for s in ax.spines.values():
        s.set_linewidth(0.9)
    ax.set_xlabel("VC_GDP", fontsize=11, labelpad=11)
    ax.set_ylabel(ylab, fontsize=11, labelpad=12)

for t, ty in zip(titles, title_y):
    fig.text(0.505, 1 - ty / H, t, ha='center', va='center', fontsize=19,
             style='italic', family='DejaVu Serif')

fig.savefig("out.png", dpi=100)
